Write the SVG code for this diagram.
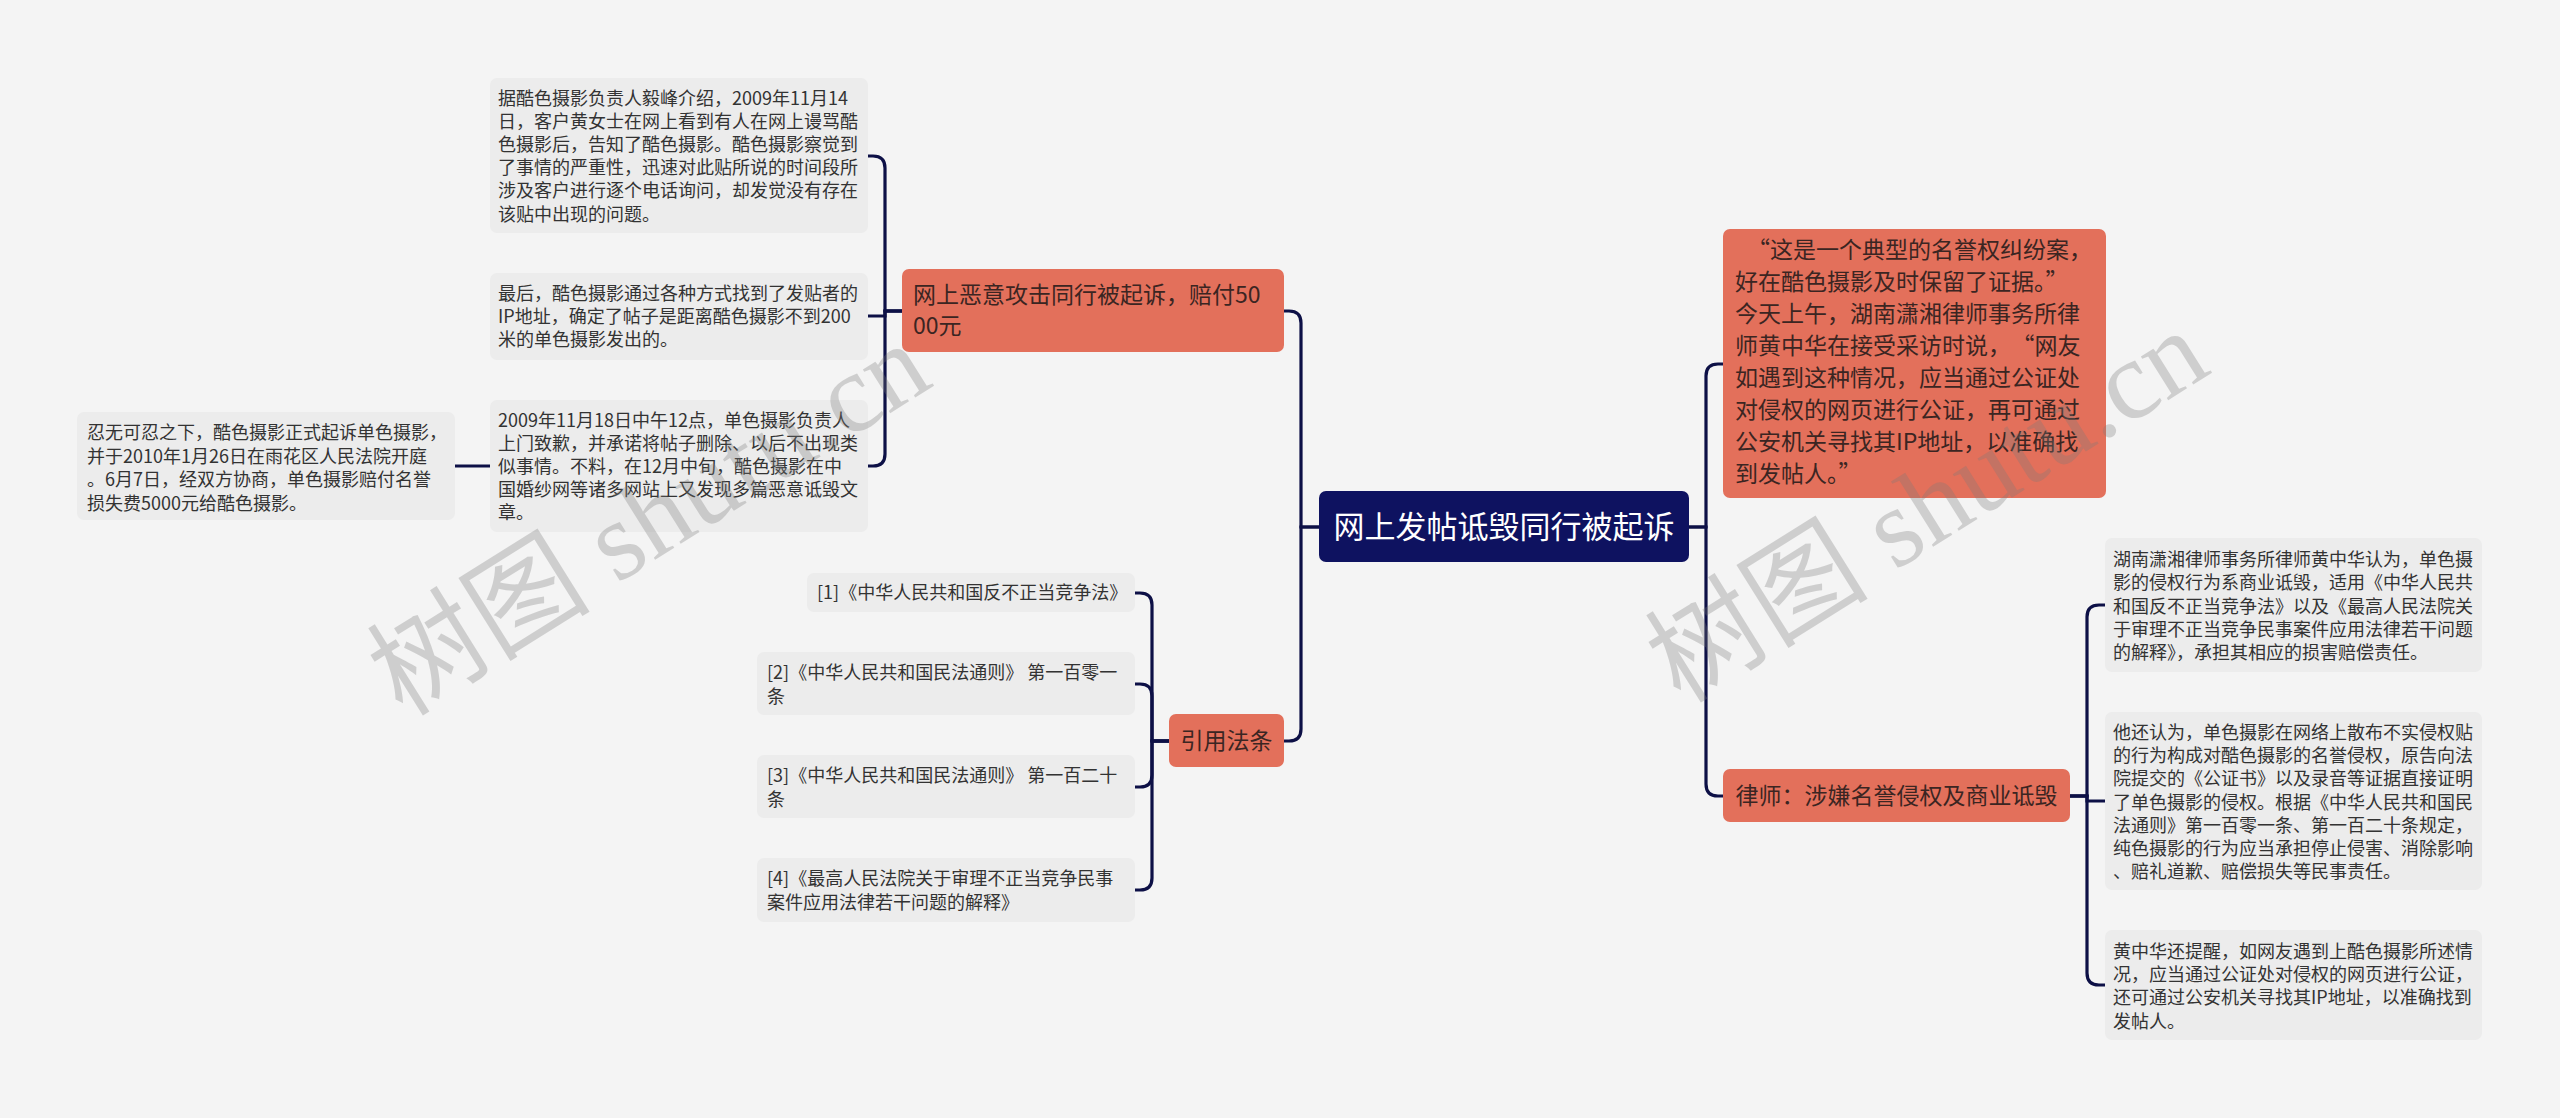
<svg xmlns="http://www.w3.org/2000/svg" width="2560" height="1118" viewBox="0 0 2560 1118">
<style>
.bg{fill:#f4f4f4}
.leaf{fill:#ececec}
.leaf-t{font-family:"Noto Sans CJK SC","Noto Sans",sans-serif;font-size:18px;fill:#333333}
.org{fill:#e3705b}
.org-t{font-family:"Noto Sans CJK SC","Noto Sans",sans-serif;font-size:23px;fill:#3b2522}
.root{fill:#0e1260}
.root-t{font-family:"Noto Sans CJK SC","Noto Sans",sans-serif;font-size:31px;fill:#ffffff}
.conn path{fill:none;stroke:#0d1046;stroke-width:3.2;stroke-linecap:round}
.wm{font-family:"Liberation Serif","Noto Sans CJK SC",serif;font-size:112px;fill:#7a7a7a;opacity:0.3}
</style>
<rect class="bg" x="0" y="0" width="2560" height="1118"/>

<g id="connectors" class="conn">
  <path d="M1319,527 H1301 V323 Q1301,311 1289,311 H1284"/>
  <path d="M1319,527 H1301 V729 Q1301,741 1289,741 H1284"/>
  <path d="M1689,527 H1706 V376 Q1706,364 1718,364 H1723"/>
  <path d="M1689,527 H1706 V784 Q1706,796 1718,796 H1723"/>
  <path d="M902,311 H885 V168 Q885,156 873,156 H868"/>
  <path d="M902,311 H885 V316 H868"/>
  <path d="M902,311 H885 V454 Q885,466 873,466 H868"/>
  <path d="M490,466 H455"/>
  <path d="M1169,741 H1152 V605 Q1152,593 1140,593 H1135"/>
  <path d="M1169,741 H1152 V696 Q1152,684 1140,684 H1135"/>
  <path d="M1169,741 H1152 V775 Q1152,787 1140,787 H1135"/>
  <path d="M1169,741 H1152 V878 Q1152,890 1140,890 H1135"/>
  <path d="M2070,796 H2087 V617 Q2087,605 2099,605 H2105"/>
  <path d="M2070,796 H2087 V801 H2105"/>
  <path d="M2070,796 H2087 V973 Q2087,985 2099,985 H2105"/>
</g>

<g id="root">
  <rect class="root" x="1319" y="491" width="370" height="71" rx="7"/>
  <text class="root-t" x="1504" y="538" text-anchor="middle">网上发帖诋毁同行被起诉</text>
</g>

<g id="node-attack">
  <rect class="org" x="902" y="269" width="382" height="83" rx="7"/>
  <text class="org-t" x="913" y="303">网上恶意攻击同行被起诉，赔付50<tspan x="913" dy="31">00元</tspan></text>
</g>

<g id="leaf-1">
  <rect class="leaf" x="490" y="78" width="378" height="155" rx="7"/>
  <text class="leaf-t" x="498" y="104.5">据酷色摄影负责人毅峰介绍，2009年11月14<tspan x="498" dy="23.2">日，客户黄女士在网上看到有人在网上谩骂酷</tspan><tspan x="498" dy="23.2">色摄影后，告知了酷色摄影。酷色摄影察觉到</tspan><tspan x="498" dy="23.2">了事情的严重性，迅速对此贴所说的时间段所</tspan><tspan x="498" dy="23.2">涉及客户进行逐个电话询问，却发觉没有存在</tspan><tspan x="498" dy="23.2">该贴中出现的问题。</tspan></text>
</g>

<g id="leaf-2">
  <rect class="leaf" x="490" y="273" width="378" height="87" rx="7"/>
  <text class="leaf-t" x="498" y="299.5">最后，酷色摄影通过各种方式找到了发贴者的<tspan x="498" dy="23.2">IP地址，确定了帖子是距离酷色摄影不到200</tspan><tspan x="498" dy="23.2">米的单色摄影发出的。</tspan></text>
</g>

<g id="leaf-3">
  <rect class="leaf" x="490" y="400" width="378" height="132" rx="7"/>
  <text class="leaf-t" x="498" y="427">2009年11月18日中午12点，单色摄影负责人<tspan x="498" dy="23">上门致歉，并承诺将帖子删除、以后不出现类</tspan><tspan x="498" dy="23">似事情。不料，在12月中旬，酷色摄影在中</tspan><tspan x="498" dy="23">国婚纱网等诸多网站上又发现多篇恶意诋毁文</tspan><tspan x="498" dy="23">章。</tspan></text>
</g>

<g id="leaf-3-1">
  <rect class="leaf" x="77" y="412" width="378" height="108" rx="7"/>
  <text class="leaf-t" x="87" y="439">忍无可忍之下，酷色摄影正式起诉单色摄影，<tspan x="87" dy="23.6">并于2010年1月26日在雨花区人民法院开庭</tspan><tspan x="87" dy="23.6">。6月7日，经双方协商，单色摄影赔付名誉</tspan><tspan x="87" dy="23.6">损失费5000元给酷色摄影。</tspan></text>
</g>

<g id="node-law">
  <rect class="org" x="1169" y="714" width="115" height="53" rx="7"/>
  <text class="org-t" x="1226.5" y="749" text-anchor="middle">引用法条</text>
</g>

<g id="law-1">
  <rect class="leaf" x="807" y="573" width="328" height="39" rx="7"/>
  <text class="leaf-t" x="817" y="599">[1]《中华人民共和国反不正当竞争法》</text>
</g>
<g id="law-2">
  <rect class="leaf" x="757" y="652" width="378" height="63" rx="7"/>
  <text class="leaf-t" x="767" y="679">[2]《中华人民共和国民法通则》 第一百零一<tspan x="767" dy="24">条</tspan></text>
</g>
<g id="law-3">
  <rect class="leaf" x="757" y="755" width="378" height="63" rx="7"/>
  <text class="leaf-t" x="767" y="782">[3]《中华人民共和国民法通则》 第一百二十<tspan x="767" dy="24">条</tspan></text>
</g>
<g id="law-4">
  <rect class="leaf" x="757" y="858" width="378" height="64" rx="7"/>
  <text class="leaf-t" x="767" y="885">[4]《最高人民法院关于审理不正当竞争民事<tspan x="767" dy="24">案件应用法律若干问题的解释》</tspan></text>
</g>

<g id="node-quote">
  <rect class="org" x="1723" y="229" width="383" height="269" rx="7"/>
  <text class="org-t" x="1735" y="258"><tspan dx="12">“</tspan>这是一个典型的名誉权纠纷案，<tspan x="1735" dy="32">好在酷色摄影及时保留了证据。”</tspan><tspan x="1735" dy="32">今天上午，湖南潇湘律师事务所律</tspan><tspan x="1735" dy="32">师黄中华在接受采访时说，</tspan><tspan dx="12">“</tspan>网友<tspan x="1735" dy="32">如遇到这种情况，应当通过公证处</tspan><tspan x="1735" dy="32">对侵权的网页进行公证，再可通过</tspan><tspan x="1735" dy="32">公安机关寻找其IP地址，以准确找</tspan><tspan x="1735" dy="32">到发帖人。”</tspan></text>
</g>

<g id="node-lawyer">
  <rect class="org" x="1723" y="769" width="347" height="53" rx="7"/>
  <text class="org-t" x="1896.5" y="804" text-anchor="middle">律师：涉嫌名誉侵权及商业诋毁</text>
</g>

<g id="leaf-r1">
  <rect class="leaf" x="2105" y="538" width="377" height="134" rx="7"/>
  <text class="leaf-t" x="2113" y="566">湖南潇湘律师事务所律师黄中华认为，单色摄<tspan x="2113" dy="23.3">影的侵权行为系商业诋毁，适用《中华人民共</tspan><tspan x="2113" dy="23.3">和国反不正当竞争法》以及《最高人民法院关</tspan><tspan x="2113" dy="23.3">于审理不正当竞争民事案件应用法律若干问题</tspan><tspan x="2113" dy="23.3">的解释》，承担其相应的损害赔偿责任。</tspan></text>
</g>

<g id="leaf-r2">
  <rect class="leaf" x="2105" y="712" width="377" height="178" rx="7"/>
  <text class="leaf-t" x="2113" y="739">他还认为，单色摄影在网络上散布不实侵权贴<tspan x="2113" dy="23.2">的行为构成对酷色摄影的名誉侵权，原告向法</tspan><tspan x="2113" dy="23.2">院提交的《公证书》以及录音等证据直接证明</tspan><tspan x="2113" dy="23.2">了单色摄影的侵权。根据《中华人民共和国民</tspan><tspan x="2113" dy="23.2">法通则》第一百零一条、第一百二十条规定，</tspan><tspan x="2113" dy="23.2">纯色摄影的行为应当承担停止侵害、消除影响</tspan><tspan x="2113" dy="23.2">、赔礼道歉、赔偿损失等民事责任。</tspan></text>
</g>

<g id="leaf-r3">
  <rect class="leaf" x="2105" y="930" width="377" height="110" rx="7"/>
  <text class="leaf-t" x="2113" y="958">黄中华还提醒，如网友遇到上酷色摄影所述情<tspan x="2113" dy="23.2">况，应当通过公证处对侵权的网页进行公证，</tspan><tspan x="2113" dy="23.2">还可通过公安机关寻找其IP地址，以准确找到</tspan><tspan x="2113" dy="23.2">发帖人。</tspan></text>
</g>

<g id="watermarks">
  <text class="wm" transform="translate(649,519) rotate(-32)" x="0" y="38" text-anchor="middle">树图 shutu.cn</text>
  <text class="wm" transform="translate(1927,506) rotate(-32)" x="0" y="38" text-anchor="middle">树图 shutu.cn</text>
</g>
</svg>
